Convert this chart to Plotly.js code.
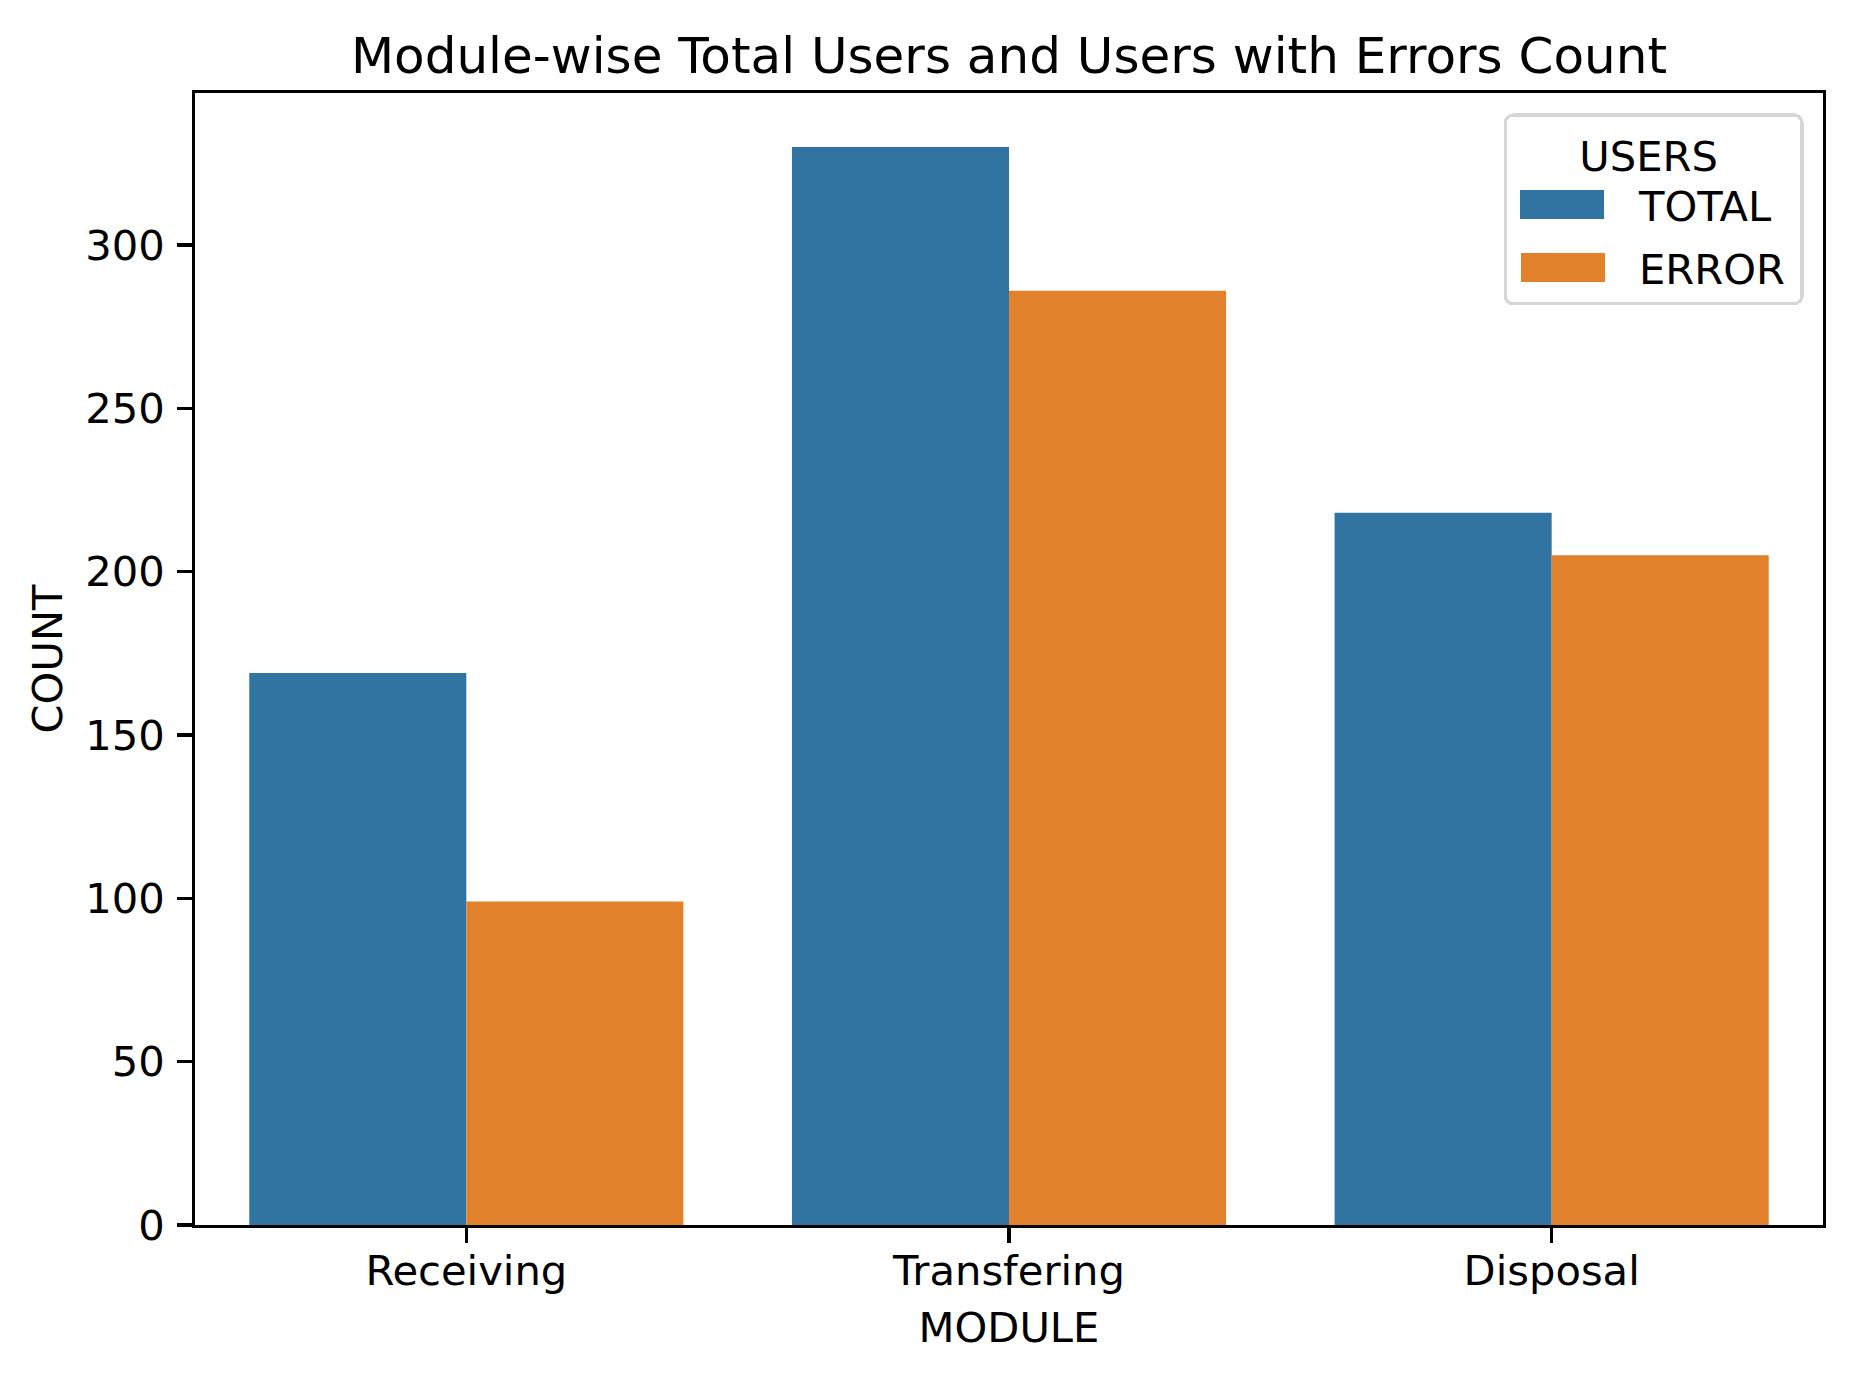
<!DOCTYPE html>
<html>
<head>
<meta charset="utf-8">
<script src="https://cdn.plot.ly/plotly-3.0.1.min.js"></script>
<style>html,body{margin:0;padding:0;background:#fff;}#chart{width:1852px;height:1381px;}</style>
</head>
<body>
<div id="chart"></div>
<script>
const modules = ["Receiving", "Transfering", "Disposal"];
const totalUsers = [169, 330, 218];
const errorUsers = [99, 286, 205];
const seriesNames = ["TOTAL", "ERROR"];
const yTicks = [0, 50, 100, 150, 200, 250, 300];

const FONT = "DejaVu Sans, sans-serif";
const FS = 41.67;
const traces = [
  {type: "bar", name: seriesNames[0], legendgroup: "g0", x: modules, y: totalUsers, marker: {color: "#3274a1", line: {width: 0}}},
  {type: "bar", name: seriesNames[1], legendgroup: "g1", x: modules, y: errorUsers, marker: {color: "#e1812c", line: {width: 0}}}
];
const axisCommon = {
  showline: true, linecolor: "#000", linewidth: 3.3, mirror: true,
  ticks: "outside", ticklen: 14.6, tickwidth: 3.3, tickcolor: "#000",
  showgrid: false, zeroline: false,
  tickfont: {family: FONT, size: FS, color: "#000"}
};
const layout = {
  width: 1852, height: 1381,
  margin: {l: 195, r: 29, t: 93, b: 156},
  paper_bgcolor: "#fff", plot_bgcolor: "#fff",
  font: {family: FONT, color: "#000"},
  title: {text: "Module-wise Total Users and Users with Errors Count", font: {family: FONT, size: 50, color: "#000"},
          x: 0.5, xref: "paper", xanchor: "center", y: 1 - 55/1381, yref: "container", yanchor: "middle"},
  barmode: "group", bargap: 0.2, bargroupgap: 0,
  xaxis: Object.assign({}, axisCommon, {
    title: {text: "MODULE", font: {family: FONT, size: FS, color: "#000"}, standoff: 20},
    range: [-0.5, 2.5], ticklabelstandoff: -8
  }),
  yaxis: Object.assign({}, axisCommon, {
    title: {text: "COUNT", font: {family: FONT, size: FS, color: "#000"}, standoff: 10},
    range: [0, 346.5], tickvals: yTicks, ticklabelstandoff: 4
  }),
  legend: {
    title: {text: "USERS", font: {family: FONT, size: FS, color: "#000"}, side: "top center"},
    font: {family: FONT, size: FS, color: "#000"},
    x: 0.982, xanchor: "right", y: 0.982, yanchor: "top",
    bordercolor: "#d6d6d6", borderwidth: 3.3, bgcolor: "rgba(255,255,255,0.8)",
    traceorder: "grouped", tracegroupgap: 6, itemwidth: 122
  },
  showlegend: true
};
Plotly.newPlot("chart", traces, layout, {displayModeBar: false, staticPlot: true}).then(function (gd) {
  // widen legend swatches to matplotlib-style patches
  gd.querySelectorAll(".legend .traces").forEach(function (tr) {
    const path = tr.querySelector(".legendpoints path");
    const txt = tr.querySelector("text.legendtext");
    if (!path || !txt) return;
    const pb = path.getBoundingClientRect();
    const tb = txt.getBoundingClientRect();
    const pc = (pb.left + pb.right) / 2;
    const cx = (tb.left - 34 - 42) - pc;
    path.setAttribute("d", "M" + (cx - 42) + ",-14.5H" + (cx + 42) + "V14.5H" + (cx - 42) + "Z");
  });
  const bg = gd.querySelector(".legend rect.bg");
  if (bg) {
    bg.setAttribute("rx", 8); bg.setAttribute("ry", 8);
    const w = parseFloat(bg.getAttribute("width"));
    if (!isNaN(w)) bg.setAttribute("width", w + 10);
  }
});
</script>
</body>
</html>
